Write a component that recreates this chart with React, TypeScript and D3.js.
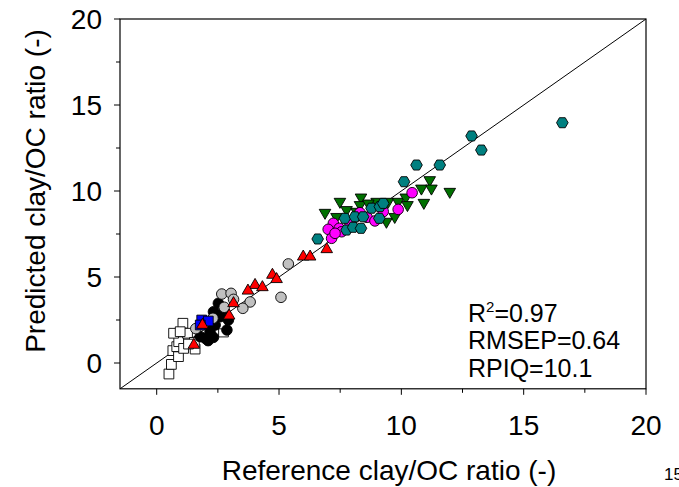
import React from "react";
import * as d3 from "d3";

const xTicks = [0, 5, 10, 15, 20];
const yTicks = [0, 5, 10, 15, 20];
const minorTicks = [2.5, 7.5, 12.5, 17.5];

const whiteX = [0.5, 0.6, 0.66, 0.89, 0.82, 0.9, 0.69, 1.07, 1.26, 0.96, 1.57, 1.54, 1.1, 2.73, 2.62, 1.3];
const whiteY = [-0.64, -0.08, 0.72, 0.37, 0.95, 1.24, 1.73, 2.31, 1.73, 1.82, 0.81, 1.2, 0.85, 1.8, 2.27, 1.1];

const blackX = [2.52, 2.73, 2.93, 2.39, 1.98, 2.32, 2.18, 1.78, 2.87, 2.59, 2.32, 2.1];
const blackY = [3.47, 2.98, 2.5, 2.21, 1.44, 1.49, 1.82, 1.53, 1.92, 2.69, 2.98, 1.3];

const grayX = [5.38, 5.08, 2.66, 3.04, 3.14, 3.82, 3.52, 2.76, 2.3, 1.6];
const grayY = [5.76, 3.82, 4.01, 4.05, 3.7, 3.55, 3.18, 3.24, 2.6, 2.0];

const blueX = [1.84, 2.11, 1.78];
const blueY = [2.5, 2.44, 2.21];

const redX = [4.73, 4.9, 4.02, 4.32, 3.73, 3.14, 2.96, 1.87, 1.52, 5.99, 6.27, 6.95];
const redY = [5.12, 4.87, 4.53, 4.4, 4.2, 3.47, 2.75, 2.21, 1.05, 6.18, 6.18, 6.61];

const greenX = [7.49, 6.88, 8.35, 8.31, 8.99, 9.46, 9.87, 10.18, 10.25, 10.82, 11.16, 11.23, 11.98, 10.92, 9.73, 9.39, 7.76, 8.17, 8.65, 7.35];
const greenY = [9.38, 8.74, 9.63, 9.19, 9.38, 9.38, 9.38, 9.63, 9.19, 10.15, 10.64, 10.15, 9.96, 9.32, 8.5, 8.22, 8.9, 8.8, 9.28, 8.5];

const magentaX = [10.44, 9.87, 8.31, 8.6, 8.92, 7.22, 7.01, 7.46, 7.15, 7.56, 7.9, 9.26, 7.29];
const magentaY = [9.9, 8.93, 8.74, 8.47, 8.26, 8.12, 7.77, 7.83, 7.25, 7.63, 8.12, 8.8, 7.54];

const tealX = [16.58, 13.27, 12.87, 10.62, 11.57, 10.11, 6.58, 7.69, 8.1, 7.76, 8.03, 8.35, 8.78, 9.1, 9.12, 9.26, 8.44];
const tealY = [13.97, 12.38, 13.2, 11.51, 11.51, 10.54, 7.21, 8.41, 8.5, 7.73, 7.89, 7.83, 9.0, 8.41, 9.09, 9.28, 8.5];

const W = 679;
const H = 487;
const FONT = "'Liberation Sans', Arial, sans-serif";

const x = d3.scaleLinear().domain([-1.5, 20]).range([120, 646]);
const y = d3.scaleLinear().domain([-1.5, 20]).range([388.8, 19]);

const hexPath = (r: number) => {
  const pts: [number, number][] = d3.range(6).map((i) => {
    const a = (Math.PI / 3) * i;
    return [r * Math.cos(a), r * Math.sin(a)];
  });
  return d3.line()(pts) + "Z";
};

type Group = {
  xs: number[];
  ys: number[];
  path: string;
  fill: string;
  rotate?: number;
};

const groups: Group[] = [
  { xs: whiteX, ys: whiteY, path: d3.symbol(d3.symbolSquare, 95)()!, fill: "#ffffff" },
  { xs: blackX, ys: blackY, path: d3.symbol(d3.symbolCircle, 88)()!, fill: "#000000" },
  { xs: grayX, ys: grayY, path: d3.symbol(d3.symbolCircle, 88)()!, fill: "#c0c0c0" },
  { xs: blueX, ys: blueY, path: d3.symbol(d3.symbolSquare, 95)()!, fill: "#0000ff" },
  { xs: redX, ys: redY, path: d3.symbol(d3.symbolTriangle, 58)()!, fill: "#ff0000" },
  { xs: greenX, ys: greenY, path: d3.symbol(d3.symbolTriangle, 58)()!, fill: "#007000", rotate: 180 },
  { xs: magentaX, ys: magentaY, path: d3.symbol(d3.symbolCircle, 88)()!, fill: "#ff00ff" },
  { xs: tealX, ys: tealY, path: hexPath(5.8), fill: "#008080" },
];

export default function App() {
  const [x0, x1] = x.range();
  const [y0, y1] = y.range();
  return (
    <svg
      width={W}
      height={H}
      style={{ position: "absolute", left: 0, top: 0, background: "#fff" }}
      fontFamily={FONT}
    >
      <rect x={0} y={0} width={W} height={H} fill="#fff" />
      {/* 1:1 line */}
      <line x1={x(-1.5)} y1={y(-1.5)} x2={x(20)} y2={y(20)} stroke="#000" strokeWidth={1} />
      {/* points */}
      {groups.map((g, gi) =>
        g.xs.map((xv, i) => (
          <path
            key={`${gi}-${i}`}
            d={g.path}
            transform={`translate(${x(xv)},${y(g.ys[i])})${g.rotate ? ` rotate(${g.rotate})` : ""}`}
            fill={g.fill}
            stroke="#000"
            strokeWidth={0.9}
          />
        ))
      )}
      {/* frame */}
      <rect x={x0} y={y1} width={x1 - x0} height={y0 - y1} fill="none" stroke="#000" strokeWidth={1.2} />
      {/* x ticks */}
      {xTicks.map((t) => (
        <g key={`xt${t}`}>
          <line x1={x(t)} x2={x(t)} y1={y0} y2={y0 + 6} stroke="#000" strokeWidth={1} />
          <text x={x(t)} y={435} textAnchor="middle" fontSize={28} fill="#000">
            {t}
          </text>
        </g>
      ))}
      {minorTicks.map((t) => (
        <line key={`xm${t}`} x1={x(t)} x2={x(t)} y1={y0} y2={y0 + 4} stroke="#000" strokeWidth={1} />
      ))}
      {/* y ticks */}
      {yTicks.map((t) => (
        <g key={`yt${t}`}>
          <line x1={x0 - 6} x2={x0} y1={y(t)} y2={y(t)} stroke="#000" strokeWidth={1} />
          <text x={102} y={y(t)} dy="0.36em" textAnchor="end" fontSize={28} fill="#000">
            {t}
          </text>
        </g>
      ))}
      {minorTicks.map((t) => (
        <line key={`ym${t}`} x1={x0 - 4} x2={x0} y1={y(t)} y2={y(t)} stroke="#000" strokeWidth={1} />
      ))}
      {/* axis titles */}
      <text x={389} y={480} textAnchor="middle" fontSize={28} fill="#000">
        Reference clay/OC ratio (-)
      </text>
      <text
        transform={`translate(45,191) rotate(-90)`}
        textAnchor="middle"
        fontSize={28}
        fill="#000"
      >
        Predicted clay/OC ratio (-)
      </text>
      {/* stats */}
      <text x={468} y={322} fontSize={25} fill="#000">
        R<tspan dy={-10} fontSize={15}>2</tspan>
        <tspan dy={10}>=0.97</tspan>
      </text>
      <text x={468} y={349} fontSize={25} fill="#000">
        RMSEP=0.64
      </text>
      <text x={468} y={377} fontSize={25} fill="#000">
        RPIQ=10.1
      </text>
      {/* page number fragment */}
      <text x={664} y={480} fontSize={17} fill="#000">
        15
      </text>
    </svg>
  );
}
